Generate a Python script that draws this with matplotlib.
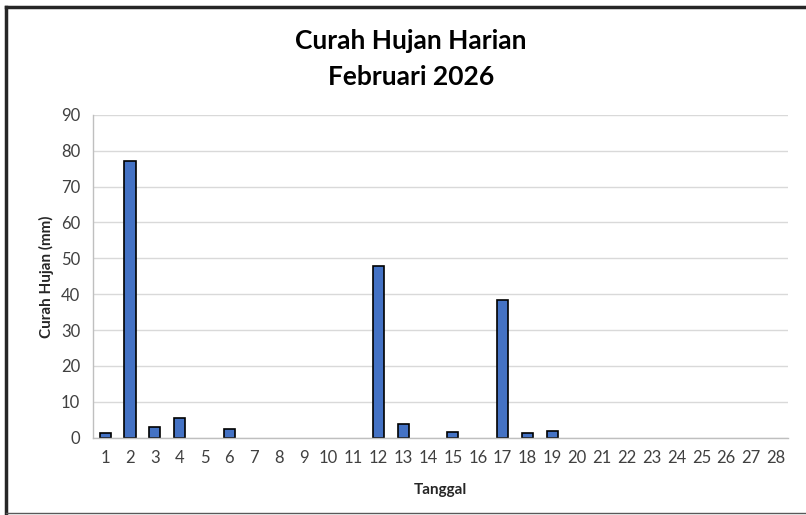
import matplotlib
matplotlib.use("Agg")
import matplotlib.pyplot as plt
from matplotlib.lines import Line2D

days = list(range(1, 29))
rain = [1.2, 77.0, 3.0, 5.6, 0, 2.5, 0, 0, 0, 0, 0, 48.0, 3.7, 0, 1.7, 0, 38.5, 1.2, 2.0,
        0, 0, 0, 0, 0, 0, 0, 0, 0]
yticks = list(range(0, 100, 10))

plt.rcParams['font.family'] = ['Lato', 'DejaVu Sans']

fig = plt.figure(figsize=(8.06, 5.15), dpi=100)
ax = fig.add_axes([0.115, 0.150, 0.863, 0.627])

lws = [1.2 if v > 0 else 0 for v in rain]
ax.bar(days, rain, width=0.45, color='#4472C4', edgecolor='black', linewidth=lws, zorder=3)
ax.set_xlim(0.5, 28.5)
ax.set_ylim(0, 90)
ax.set_yticks(yticks)
ax.set_xticks(days)
ax.grid(axis='y', color='#D9D9D9', linewidth=1, zorder=0)
ax.tick_params(axis='both', length=0, labelsize=12, colors='#404040', pad=9)
for s in ['top', 'right']:
    ax.spines[s].set_visible(False)
for s in ['left', 'bottom']:
    ax.spines[s].set_color('#BFBFBF')
    ax.spines[s].set_linewidth(1)
ax.spines['bottom'].set_zorder(4)

ax.set_xlabel('Tanggal', fontsize=11, fontweight='bold', color='#262626', labelpad=12)
ax.set_ylabel('Curah Hujan (mm)', fontsize=11, fontweight='bold', color='#262626', labelpad=5)
fig.text(0.51, 0.920, 'Curah Hujan Harian', ha='center', va='center', fontsize=19, fontweight='bold', color='black')
fig.text(0.51, 0.850, 'Februari 2026', ha='center', va='center', fontsize=19, fontweight='bold', color='black')

fig.add_artist(Line2D([0.007, 0.007], [0.003, 0.987], transform=fig.transFigure, color='#262626', linewidth=2.5))
fig.add_artist(Line2D([0.007, 1.0], [0.987, 0.987], transform=fig.transFigure, color='#262626', linewidth=2.5))
fig.add_artist(Line2D([0.007, 1.0], [0.004, 0.004], transform=fig.transFigure, color='#595959', linewidth=1))

fig.savefig('out.png', dpi=100)
